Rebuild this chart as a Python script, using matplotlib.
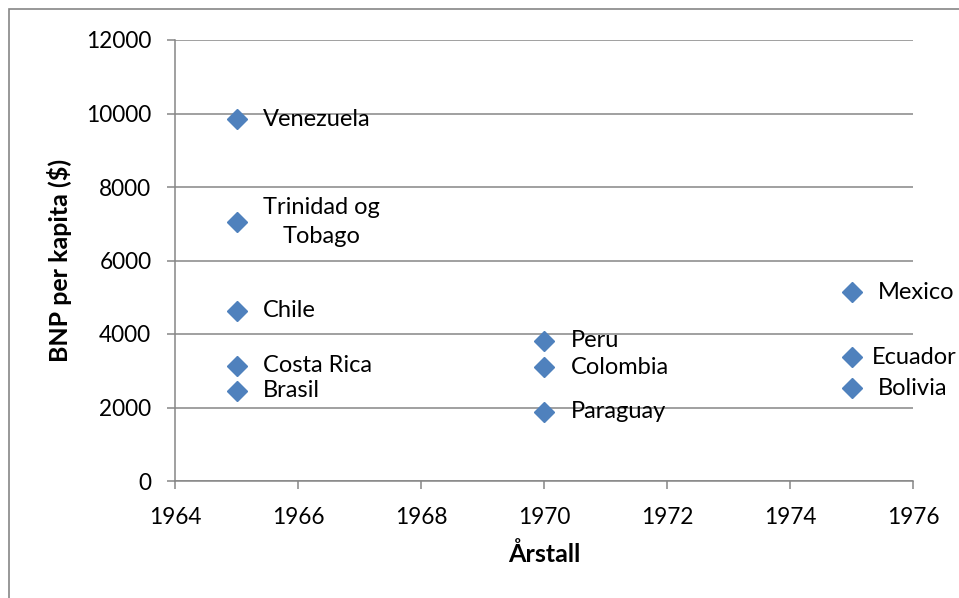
import matplotlib
matplotlib.use("Agg")
import matplotlib.pyplot as plt
from matplotlib.patches import Rectangle

plt.rcParams['font.family'] = ['Lato', 'DejaVu Sans']

# ---- data ----
countries = ["Venezuela", "Trinidad og\nTobago", "Chile", "Costa Rica", "Brasil",
             "Peru", "Colombia", "Paraguay",
             "Mexico", "Ecuador", "Bolivia"]
years = [1965, 1965, 1965, 1965, 1965,
         1970, 1970, 1970,
         1975, 1975, 1975]
gnp = [9850, 7050, 4630, 3130, 2450,
       3810, 3100, 1880,
       5140, 3370, 2530]

x_ticks = [1964, 1966, 1968, 1970, 1972, 1974, 1976]
y_ticks = [0, 2000, 4000, 6000, 8000, 10000, 12000]

GRAY = "#868686"
BLUE = "#4F81BD"
TICK_FS = 16.3
LABEL_FS = 17
TITLE_FS = 18

fig = plt.figure(figsize=(9.59, 5.98), dpi=100)
ax = fig.add_axes([175 / 959, 1 - 481 / 598, (913 - 175) / 959, (481 - 40) / 598])

# outer chart frame (cut by the picture edge at right and bottom)
fig.patches.append(Rectangle((9 / 959, -0.05), 1.1, 1 - 9 / 598 + 0.05,
                             transform=fig.transFigure, fill=False,
                             edgecolor=GRAY, linewidth=1.2, clip_on=False))

ax.set_xlim(1964, 1976)
ax.set_ylim(0, 12000)
ax.set_xticks(x_ticks)
ax.set_yticks(y_ticks)
ax.grid(axis='y', color=GRAY, linewidth=1.1)
ax.set_axisbelow(True)

for s in ["top", "right"]:
    ax.spines[s].set_visible(False)
for s in ["left", "bottom"]:
    ax.spines[s].set_color(GRAY)
    ax.spines[s].set_linewidth(1.1)

ax.tick_params(axis='both', direction='out', color=GRAY, width=1.1,
               labelsize=TICK_FS, labelcolor='black')
ax.tick_params(axis='y', length=6, pad=11)
ax.tick_params(axis='x', length=6, pad=13)

ax.plot(years, gnp, linestyle='none', marker='D', markersize=10,
        color=BLUE, markeredgecolor=BLUE, clip_on=False, zorder=3)

for name, x, y in zip(countries, years, gnp):
    # Ecuador sits a little closer to its marker in the original
    dx = 15 if name == "Ecuador" else 19
    ax.annotate(name, (x, y), xytext=(dx, 0), textcoords='offset points',
                ha='left', va='center', multialignment='center',
                linespacing=1.45, fontsize=LABEL_FS, annotation_clip=False)

ax.set_xlabel("Årstall", fontsize=TITLE_FS, fontweight='bold', labelpad=10)
ax.set_ylabel("BNP per kapita ($)", fontsize=TITLE_FS, fontweight='bold', labelpad=10)

fig.savefig("out.png", dpi=100)
